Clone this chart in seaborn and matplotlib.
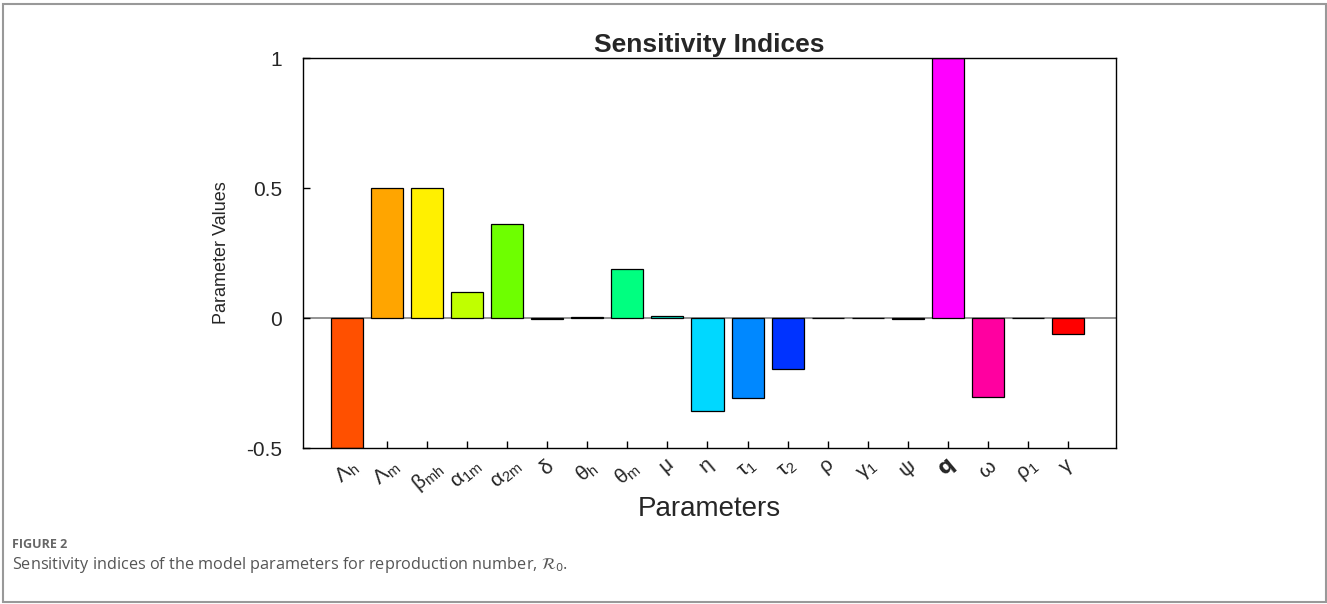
import matplotlib
matplotlib.use("Agg")
import matplotlib.pyplot as plt
import seaborn as sns
import pandas as pd
from matplotlib.patches import Rectangle

params = [r"$\mathregular{\Lambda_h}$", r"$\mathregular{\Lambda_m}$", r"$\mathregular{\beta_{mh}}$",
          r"$\mathregular{\alpha_{1m}}$", r"$\mathregular{\alpha_{2m}}$", r"$\mathregular{\delta}$",
          r"$\mathregular{\theta_h}$", r"$\mathregular{\theta_m}$", r"$\mathregular{\mu}$",
          r"$\mathregular{\eta}$", r"$\mathregular{\tau_1}$", r"$\mathregular{\tau_2}$",
          r"$\mathregular{\rho}$", r"$\mathregular{\gamma_1}$", r"$\mathregular{\psi}$",
          r"$\mathbf{q}$", r"$\mathregular{\omega}$", r"$\mathregular{\rho_1}$", r"$\mathregular{\gamma}$"]
values = [-0.5, 0.5, 0.5, 0.1, 0.36, -0.002, 0.002, 0.188, 0.008, -0.358, -0.308, -0.196,
          0.0005, 0.0005, -0.003, 1.0, -0.304, 0.0005, -0.062]
colors = ["#FF5000", "#FFA500", "#FFF000", "#C0FF00", "#6EFF00", "#20FF30", "#00FF50",
          "#00FF80", "#00E0C0", "#00D8FF", "#0088FF", "#0033FF", "#2000FF", "#7000FF",
          "#C000FF", "#FF00FF", "#FF00A0", "#FF0050", "#FF0000"]
yticks = [-0.5, 0, 0.5, 1]
yticklabels = ["-0.5", "0", "0.5", "1"]

sns.set_style("white")
plt.rcParams['font.family'] = ['Liberation Sans', 'DejaVu Sans']
plt.rcParams['mathtext.fontset'] = 'dejavusans'

df = pd.DataFrame({"param": params, "value": values})

fig = plt.figure(figsize=(13.27, 6.04), dpi=100)
ax = fig.add_axes([303/1327, 156/604, (1116-303)/1327, (448-58)/604])

sns.barplot(data=df, x="param", y="value", hue="param", palette=colors, legend=False,
            width=0.8, edgecolor="black", linewidth=0.9, saturation=1, ax=ax)

ax.axhline(0, color="#808080", linewidth=1.2, zorder=0.5)
ax.set_xlim(-1.1, 19.2)
ax.set_ylim(-0.5, 1.0)
ax.set_yticks(yticks)
ax.set_yticklabels(yticklabels, fontsize=15)
ax.set_xticks(range(len(params)))
ax.set_xticklabels(params, fontsize=15)
ax.tick_params(axis="both", direction="in", length=5, width=1, color="black",
               top=False, right=False, bottom=True, left=True)
ax.tick_params(axis="x", pad=6, labelrotation=40)
ax.tick_params(axis="y", pad=15)
for s in ax.spines.values():
    s.set_visible(True)
    s.set_color("black")
    s.set_linewidth(1.0)

ax.set_title("Sensitivity Indices", fontsize=19, fontweight="bold", pad=4)
ax.set_xlabel("Parameters", fontsize=20, labelpad=0)
ax.set_ylabel("Parameter Values", fontsize=13, labelpad=12)

fig.text(12/1327, 1 - 545/604, "FIGURE 2", fontsize=9, color="#666666",
         fontweight="bold", va="center", ha="left", family=["Open Sans", "DejaVu Sans"])
fig.text(12/1327, 1 - 565/604,
         r"Sensitivity indices of the model parameters for reproduction number, $\mathcal{R}_0$.",
         fontsize=11.7, color="#555555", va="center", ha="left", family=["Open Sans", "DejaVu Sans"])

fig.patches.append(Rectangle((3/1327, 2/604), (1326-3)/1327, (602-4)/604,
                             transform=fig.transFigure, fill=False,
                             edgecolor="#999999", linewidth=1.5))

for lbl in ax.get_xticklabels():
    lbl.set_rotation(40)
    lbl.set_horizontalalignment("center")

fig.savefig("out.png", dpi=100)
